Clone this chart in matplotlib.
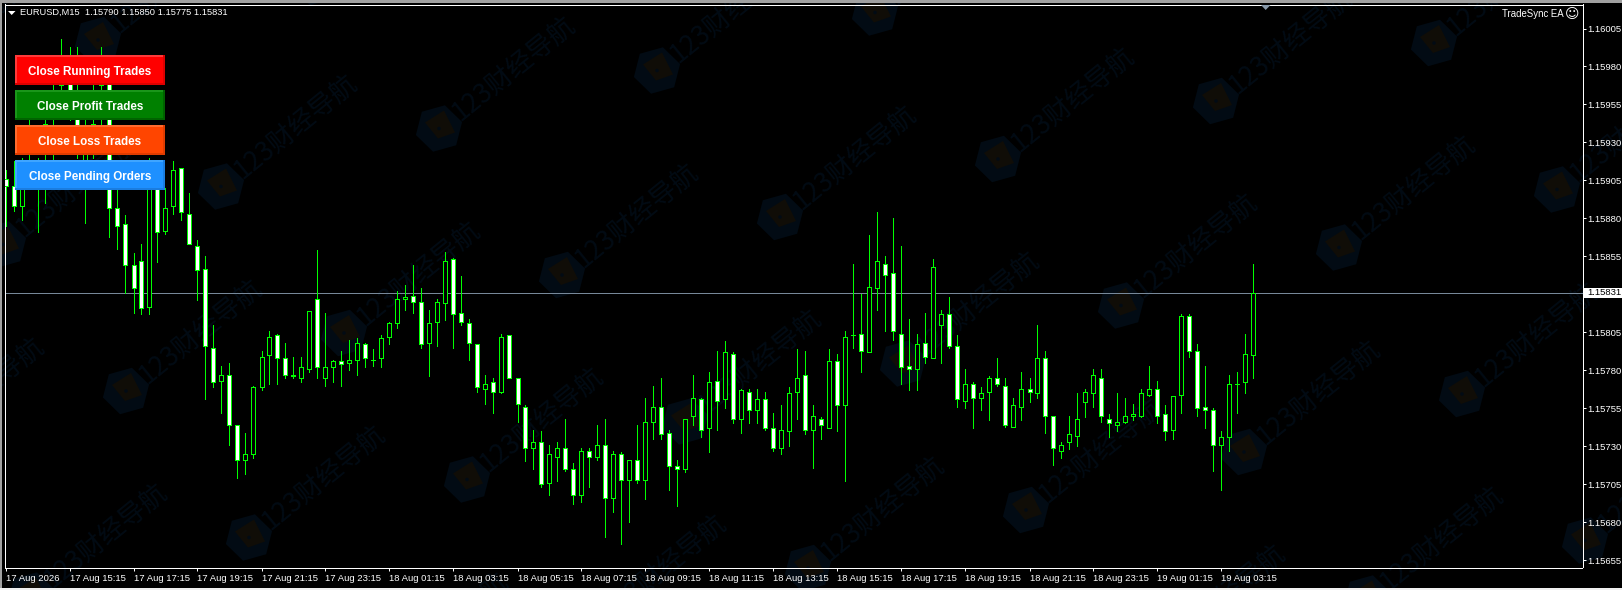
'''
EURUSD M15 terminal screenshot, candles read off the picture.
Prices are kept as points above 1.15000.
'''

import numpy as np
import matplotlib
matplotlib.use('Agg')
import matplotlib.pyplot as plt
from matplotlib.patches import Rectangle, RegularPolygon, Polygon, Circle

BASE = 1.15

opens = [906,901,888,925,900,925,946,968,984,963,900,925,968,978,887,876,849,852,822,912,
         872,888,913,883,862,847,795,773,777,744,721,725,769,790,803,788,777,775,781,827,
         775,782,786,785,787,797,787,788,802,811,827,829,825,798,812,824,853,818,811,797,
         768,772,766,803,775,756,729,733,706,723,729,715,698,727,723,731,696,725,708,721,
         708,746,756,739,717,715,750,761,742,773,761,791,748,766,754,761,742,729,740,766,
         777,741,748,742,786,757,803,804,792,834,850,844,804,783,781,798,788,810,817,796,
         760,771,762,766,775,770,743,756,768,765,788,750,727,733,737,759,765,775,748,744,
         746,750,750,764,768,751,741,764,816,793,756,754,731,736,771,772,790]
highs = [912,918,920,946,920,945,968,998,993,993,946,968,993,984,912,882,857,863,920,918,
         900,918,913,897,866,855,810,783,785,744,739,770,793,806,804,798,789,789,819,859,
         818,787,793,800,801,798,794,803,812,832,836,849,834,820,827,858,854,842,814,797,
         777,775,804,803,775,757,741,740,731,733,748,719,729,729,744,748,727,726,721,744,
         762,770,775,741,721,748,777,762,779,793,799,792,768,768,768,766,752,757,769,794,
         793,757,749,794,791,806,850,830,869,884,855,880,862,814,804,818,853,820,828,803,
         781,772,769,776,788,775,762,779,775,810,793,750,733,750,765,768,781,781,751,765,
         762,758,768,783,773,757,763,817,817,797,783,755,740,777,779,804,850]
lows = [875,885,879,902,871,890,916,946,945,920,877,920,942,868,860,831,818,817,817,851,
        870,883,879,863,826,761,769,752,731,709,712,722,767,771,771,775,775,772,779,775,
        770,772,770,780,777,782,783,782,797,808,820,818,795,776,796,813,795,810,787,766,
        758,752,765,775,746,720,715,703,698,707,714,692,693,703,721,670,687,666,680,706,
        695,735,735,701,691,713,744,736,726,741,755,745,739,745,745,741,727,725,730,748,
        738,716,735,742,740,707,795,779,792,820,806,800,771,767,767,785,788,785,795,756,
        755,742,754,747,770,743,743,747,759,762,739,718,722,728,730,749,756,746,736,740,
        745,747,749,763,745,734,735,752,789,750,742,714,701,727,752,765,775]
closes = [901,888,915,939,917,942,963,986,946,924,939,942,985,887,875,849,834,821,915,871,
          887,912,884,863,846,796,772,777,744,721,725,769,789,802,788,777,776,782,819,782,
          782,786,784,787,798,788,787,801,811,827,828,825,797,811,825,852,817,812,798,769,
          771,766,802,775,758,729,733,705,725,729,715,698,727,723,731,696,725,708,721,708,
          746,756,738,717,715,748,762,741,772,760,792,748,767,754,761,742,729,741,765,775,
          741,750,744,786,757,802,803,793,835,852,843,806,782,781,797,789,848,817,796,761,
          771,762,765,775,771,744,757,768,766,788,750,729,731,738,748,766,777,750,745,746,
          750,751,765,768,750,740,763,816,793,755,754,731,736,771,771,791,831]

tick_prices = [1.16005,1.15980,1.15955,1.15930,1.15905,1.15880,1.15855,1.15805,1.15780,
               1.15755,1.15730,1.15705,1.15680,1.15655]
time_labels = ['17 Aug 2026','17 Aug 15:15','17 Aug 17:15','17 Aug 19:15','17 Aug 21:15',
               '17 Aug 23:15','18 Aug 01:15','18 Aug 03:15','18 Aug 05:15','18 Aug 07:15',
               '18 Aug 09:15','18 Aug 11:15','18 Aug 13:15','18 Aug 15:15','18 Aug 17:15',
               '18 Aug 19:15','18 Aug 21:15','18 Aug 23:15','19 Aug 01:15','19 Aug 03:15']
button_labels = ['Close Running Trades','Close Profit Trades','Close Loss Trades','Close Pending Orders']

GREEN = '#00ff00'
FONT = 'Liberation Sans'
W, H = 1622, 590
PX = 0.72  # one pixel in points at dpi 100

fig = plt.figure(figsize=(W/100, H/100), dpi=100, facecolor='black')


def pixel_axes(z):
    a = fig.add_axes([0, 0, 1, 1], zorder=z)
    a.set_xlim(0, W)
    a.set_ylim(H, 0)
    a.axis('off')
    a.patch.set_alpha(0)
    return a


# watermark layer
bg = pixel_axes(0)
for i in range(-3, 9):
    for j in range(-3, 5):
        cx = 126 + i*218 + j*123
        cy = 391 - i*58 + j*146.5
        if cx < -150 or cx > W+50 or cy < -50 or cy > H+100:
            continue
        bg.add_patch(RegularPolygon((cx, cy), 6, radius=24, orientation=0.25, fc='#020b14', ec='none'))
        bg.add_patch(Polygon([(cx-14, cy-6), (cx+5, cy-18), (cx+16, cy+4), (cx-1, cy+10)], fc='#100d07', ec='none'))
        bg.add_patch(Circle((cx, cy), 1.8, fc='#020b14', ec='none'))
        bg.text(cx+74, cy-60, '123财经导航', family='Noto Sans CJK SC', fontsize=19, color='#020b14',
                rotation=39, ha='center', va='center', clip_on=True)

# chart
ax = fig.add_axes([4.5/W, 1-567.5/H, 1578/W, 563/H], zorder=1)
ax.patch.set_alpha(0)
ax.set_xlim(-1/8, 1577/8)
# 37.98 px per 0.00025, 1.16005 sits at pixel 28.5
ax.set_ylim(1.16005 - (567.5-28.5)/37.98*0.00025, 1.16005 + (28.5-4.5)/37.98*0.00025)

o = BASE + np.array(opens)/1e5
h = BASE + np.array(highs)/1e5
l = BASE + np.array(lows)/1e5
c = BASE + np.array(closes)/1e5
x = np.arange(len(o))
bear = c < o

ax.axhline(c[-1], color='#778899', lw=PX, zorder=1, antialiased=False)
ax.vlines(x, l, h, color=GREEN, lw=PX, antialiased=False, zorder=2)
ax.bar(x[bear], (o-c)[bear], bottom=c[bear], width=0.5, fc='white', ec=GREEN, lw=PX, antialiased=False, zorder=3)
ax.bar(x[~bear], (c-o)[~bear], bottom=o[~bear], width=0.5, fc='black', ec=GREEN, lw=PX, antialiased=False, zorder=3)

for s in ax.spines.values():
    s.set_color('white')
    s.set_linewidth(PX)

ax.yaxis.tick_right()
ax.set_yticks(tick_prices, ['%.5f' % p for p in tick_prices], family=FONT, fontsize=6.8, color='white')
ax.tick_params(axis='y', length=3*PX, width=PX, color='white', pad=1.6)
ax.set_xticks(np.arange(len(time_labels))*8, time_labels, family=FONT, fontsize=6.8, color='white', ha='left')
ax.tick_params(axis='x', length=3*PX, width=PX, color='white', pad=2.6)

# screen furniture on top
top = pixel_axes(2)
top.add_patch(Rectangle((0, 0), W, 3, fc='#a0a0a0', ec='none'))
top.add_patch(Rectangle((0, 0), 2, H, fc='#a0a0a0', ec='none'))
top.add_patch(Rectangle((0, 588), W, 2, fc='#f0f0f0', ec='none'))
top.add_patch(Polygon([(1261, 5), (1270.5, 5), (1265.7, 10)], fc='#8899aa', ec='none'))

top.add_patch(Polygon([(8, 11), (15.5, 11), (11.7, 15)], fc='white', ec='none'))
top.text(20, 12.7, 'EURUSD,M15  1.15790 1.15850 1.15775 1.15831', family=FONT, fontsize=6.7,
         color='white', ha='left', va='center')
top.text(1563.5, 14, 'TradeSync EA', family=FONT, fontsize=6.9, color='white', ha='right', va='center')
top.text(1571.7, 13.6, '\u263a', family='DejaVu Sans', fontsize=10, color='white', ha='center', va='center')

# current price tag
top.add_patch(Rectangle((1584, 287.7), 38, 10, fc='white', ec='none'))
top.text(1587, 292.7, '%.5f' % c[-1], family=FONT, fontsize=6.8, color='black', ha='left', va='center')

# panel buttons: fill, light edge, dark edge
button_colours = [('#ff0000', '#ff3a3a', '#dc0000'),
                  ('#008000', '#1a961a', '#006400'),
                  ('#ff4500', '#ff6b2e', '#e03c00'),
                  ('#1e90ff', '#3fa5ff', '#1a7de0')]
for n, (label, cols) in enumerate(zip(button_labels, button_colours)):
    by = 55 + 35*n
    top.add_patch(Rectangle((15, by), 150, 30, fc=cols[0], ec='none'))
    top.add_patch(Rectangle((15, by), 150, 2, fc=cols[1], ec='none'))
    top.add_patch(Rectangle((15, by), 2, 30, fc=cols[1], ec='none'))
    top.add_patch(Rectangle((15, by+28), 150, 2, fc=cols[2], ec='none'))
    top.add_patch(Rectangle((163, by), 2, 30, fc=cols[2], ec='none'))
    top.text(89.7, by+17.3, label, family=FONT, fontsize=8.4, fontweight='bold', color='white',
             ha='center', va='center')

fig.savefig('out.png', dpi=100, facecolor='black')
